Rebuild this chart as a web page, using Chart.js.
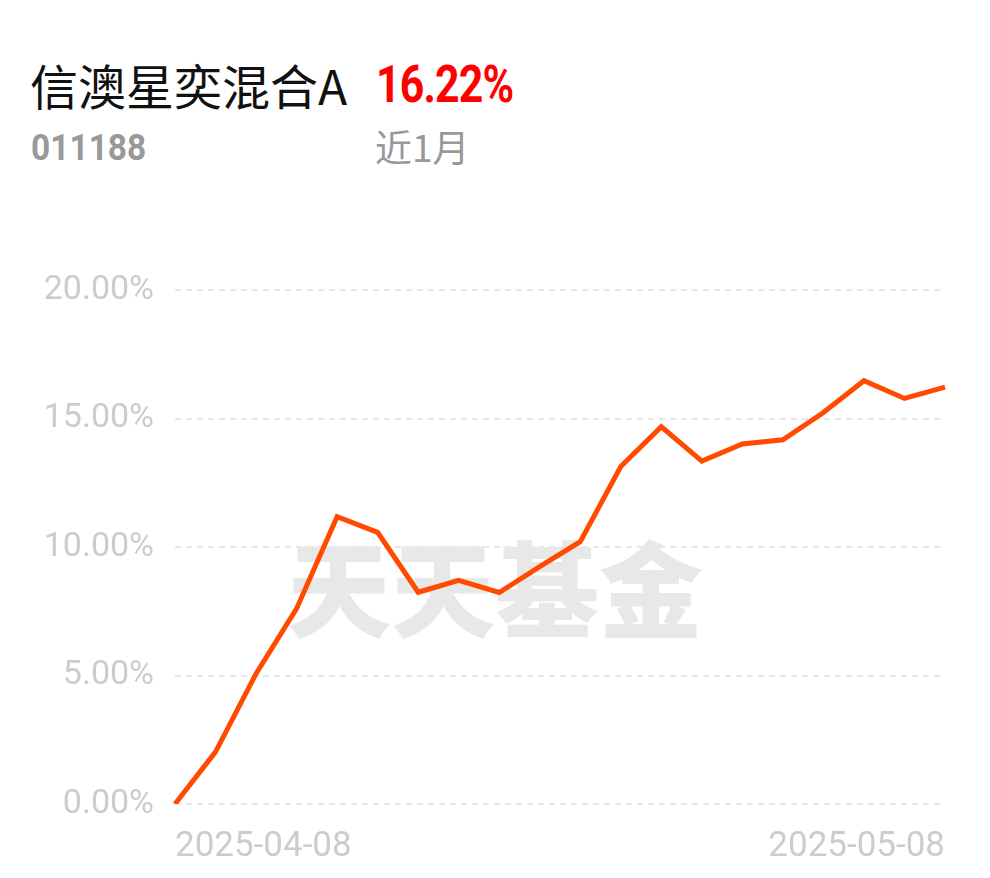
<!DOCTYPE html>
<html>
<head>
<meta charset="utf-8">
<script src="https://cdn.jsdelivr.net/npm/chart.js@4.4.1/dist/chart.umd.min.js"></script>
<style>
  html, body { margin: 0; padding: 0; background: #fff; }
  body { width: 990px; height: 878px; position: relative; overflow: hidden; }
  #wrap { position: absolute; left: 0; top: 0; width: 990px; height: 878px; }
  .t { position: absolute; white-space: nowrap; line-height: 1; }
  #name { left: 30px; top: 49px; font: 48px "Noto Sans CJK SC", sans-serif; color: #111; }
  #pct { left: 376px; top: 55px; font: bold 51px Roboto, sans-serif; color: #f00; transform: scaleX(0.84); transform-origin: left top; letter-spacing: -1px; }
  #code { left: 31px; top: 127px; font: bold 36px Roboto, sans-serif; color: #999; transform: scaleX(0.93); transform-origin: left top; }
  #period { left: 375px; top: 119px; font: 37px "Noto Sans CJK SC", sans-serif; color: #999; }
</style>
</head>
<body>
<div class="t" id="name">信澳星奕混合A</div>
<div class="t" id="pct">16.22%</div>
<div class="t" id="code">011188</div>
<div class="t" id="period">近1月</div>
<div id="wrap"><canvas id="c"></canvas></div>
<script>
const dates = ['2025-04-08','2025-04-09','2025-04-10','2025-04-11','2025-04-14','2025-04-15','2025-04-16',
  '2025-04-17','2025-04-18','2025-04-21','2025-04-22','2025-04-23','2025-04-24','2025-04-25',
  '2025-04-28','2025-04-29','2025-04-30','2025-05-06','2025-05-07','2025-05-08'];
const returns = [0, 2.03, 5.07, 7.60, 11.18, 10.57, 8.24, 8.70, 8.23, 9.24,
  10.21, 13.13, 14.68, 13.34, 14.01, 14.17, 15.23, 16.47, 15.78, 16.22];
const yTicks = [0, 5, 10, 15, 20];

// light "天天基金" mark behind the line
const watermark = {
  id: 'watermark',
  beforeDatasetsDraw(chart) {
    const ctx = chart.ctx;
    ctx.save();
    ctx.font = '900 104px "Noto Sans CJK SC"';
    ctx.fillStyle = '#e8e8e8';
    ctx.textAlign = 'center';
    ctx.textBaseline = 'middle';
    ctx.fillText('天天基金', 495, 590);
    ctx.restore();
  }
};

const ctx = document.getElementById('c').getContext('2d');
new Chart(ctx, {
  type: 'line',
  data: {
    labels: dates,
    datasets: [{
      data: returns,
      borderColor: '#ff4a00',
      borderWidth: 5,
      pointRadius: 0,
      tension: 0,
      fill: false
    }]
  },
  options: {
    responsive: true,
    maintainAspectRatio: false,
    animation: false,
    layout: { padding: { top: 290, right: 45, left: 0, bottom: 0 } },
    plugins: { legend: { display: false }, tooltip: { enabled: false } },
    scales: {
      x: {
        border: { display: false },
        grid: { display: false },
        ticks: {
          autoSkip: false,
          maxRotation: 0,
          align: 'inner',
          padding: 14,
          color: '#cccccc',
          font: { family: 'Roboto', size: 35 },
          callback: (v, i) => (i === 0 || i === dates.length - 1) ? dates[i] : ''
        },
        afterFit: s => { s.height = 74; }
      },
      y: {
        min: 0,
        max: 20,
        border: { display: false, dash: [6, 5] },
        grid: { color: '#e6e6e6', lineWidth: 2, drawTicks: false },
        ticks: {
          stepSize: 5,
          padding: 21,
          color: '#cccccc',
          font: { family: 'Roboto', size: 34 },
          callback: v => yTicks.includes(v) ? v.toFixed(2) + '%' : ''
        },
        afterFit: s => { s.width = 175; }
      }
    }
  },
  plugins: [watermark]
});
</script>
</body>
</html>
